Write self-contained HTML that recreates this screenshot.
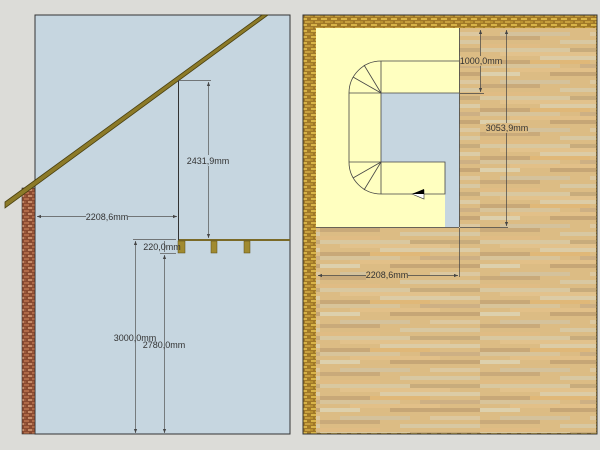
<!DOCTYPE html>
<html><head><meta charset="utf-8"><style>
html,body{margin:0;padding:0;background:#dcdcd8;}
svg{display:block;font-family:"Liberation Sans",sans-serif;}
</style></head><body>
<svg width="600" height="450" viewBox="0 0 600 450" xmlns="http://www.w3.org/2000/svg">
<defs>
<pattern id="brick" width="8" height="6" patternUnits="userSpaceOnUse">
<rect width="8" height="6" fill="#8a4a30"/>
<rect x="0" y="0" width="5" height="2" fill="#b06a48"/>
<rect x="4" y="3" width="4" height="2" fill="#c48a68"/>
<rect x="0" y="3" width="2" height="2" fill="#9c5a3c"/>
</pattern>
<pattern id="ybrick" width="10" height="6" patternUnits="userSpaceOnUse">
<rect width="10" height="6" fill="#a07828"/>
<rect x="1" y="0" width="6" height="2" fill="#d8b448"/>
<rect x="5" y="3" width="5" height="2" fill="#c8a040"/>
<rect x="0" y="3" width="3" height="2" fill="#b89030"/>
</pattern>
<pattern id="wood" width="160" height="48" patternUnits="userSpaceOnUse">
<rect width="160" height="48" fill="#dcbc84"/>
<rect x="0" y="0" width="90" height="4" fill="#d9c8a0"/>
<rect x="90" y="0" width="70" height="4" fill="#c8ac7c"/>
<rect x="20" y="4" width="110" height="4" fill="#e2c28c"/>
<rect x="60" y="8" width="100" height="4" fill="#dccca6"/>
<rect x="0" y="12" width="50" height="4" fill="#c8a878"/>
<rect x="50" y="12" width="60" height="4" fill="#e0b878"/>
<rect x="0" y="16" width="80" height="4" fill="#d8c49a"/>
<rect x="100" y="16" width="60" height="4" fill="#cdb084"/>
<rect x="30" y="20" width="90" height="4" fill="#e2c088"/>
<rect x="0" y="24" width="40" height="4" fill="#ddd0ac"/>
<rect x="70" y="24" width="90" height="4" fill="#c6a676"/>
<rect x="0" y="28" width="110" height="4" fill="#dcbc84"/>
<rect x="20" y="32" width="70" height="4" fill="#d4c29c"/>
<rect x="110" y="32" width="50" height="4" fill="#dcc8a0"/>
<rect x="0" y="36" width="60" height="4" fill="#c9aa7a"/>
<rect x="80" y="40" width="80" height="4" fill="#d8c8a2"/>
<rect x="0" y="44" width="60" height="4" fill="#e0bc84"/>
</pattern>
<marker id="ar" viewBox="0 0 10 10" refX="10" refY="5" markerWidth="6" markerHeight="6" orient="auto-start-reverse"><path d="M0,1 L10,5 L0,9z" fill="#444"/></marker>
</defs>

<!-- LEFT PANEL -->
<rect x="35" y="15" width="255" height="419" fill="#c6d6e0" stroke="#333" stroke-width="1"/>
<rect x="22" y="188" width="13" height="246" fill="url(#brick)" stroke="#333" stroke-width="0.6"/>
<polygon points="5,202 262,15 268,15 5,208" fill="#8c7a28" stroke="#4a4010" stroke-width="0.8"/>
<rect x="178" y="239" width="112" height="2" fill="#7a6a28"/>
<rect x="178" y="241" width="7" height="12" fill="#a08a30" stroke="#5a4a10" stroke-width="0.5"/>
<rect x="211" y="241" width="6" height="12" fill="#a08a30" stroke="#5a4a10" stroke-width="0.5"/>
<rect x="244" y="241" width="6" height="12" fill="#a08a30" stroke="#5a4a10" stroke-width="0.5"/>
<line x1="178.5" y1="80" x2="178.5" y2="240" stroke="#333" stroke-width="1"/>
<g stroke="#555" stroke-width="0.7" fill="none">
<line x1="178" y1="80.5" x2="211" y2="80.5"/>
<line x1="208.5" y1="82" x2="208.5" y2="238" marker-start="url(#ar)" marker-end="url(#ar)"/>
<line x1="37" y1="216.5" x2="177" y2="216.5" marker-start="url(#ar)" marker-end="url(#ar)"/>
<line x1="133" y1="239.5" x2="176" y2="239.5"/>
<line x1="160" y1="253.5" x2="176" y2="253.5"/>
<line x1="135.5" y1="241" x2="135.5" y2="433" marker-start="url(#ar)" marker-end="url(#ar)"/>
<line x1="164.5" y1="255" x2="164.5" y2="433" marker-start="url(#ar)" marker-end="url(#ar)"/>
<line x1="164.5" y1="241" x2="164.5" y2="252"/>
</g>
<g font-size="9" fill="#333" text-anchor="middle">
<rect x="187" y="155" width="43" height="11" fill="#c6d6e0"/>
<text x="208" y="164">2431,9mm</text>
<rect x="86" y="211" width="42" height="11" fill="#c6d6e0"/>
<text x="107" y="220">2208,6mm</text>
<text x="162" y="250">220,0mm</text>
<text x="135" y="341">3000,0mm</text>
<text x="164" y="348">2780,0mm</text>
</g>

<!-- RIGHT PANEL -->
<rect x="303" y="15" width="294" height="419" fill="url(#ybrick)" stroke="#333" stroke-width="1"/>
<rect x="316" y="28" width="280" height="405" fill="url(#wood)"/>
<rect x="316" y="28" width="143" height="199" fill="#ffffc0"/>
<path d="M381,93 H459 V227 H445 V162 H381 Z" fill="#c6d6e0"/>
<g stroke="#444" stroke-width="0.8" fill="none">
<line x1="316" y1="227.5" x2="459" y2="227.5"/>
<line x1="459.5" y1="28" x2="459.5" y2="227"/>
<path d="M459,61 H381 A32,32 0 0 0 349,93 V162 A32,32 0 0 0 381,194 H445 V162 H381"/>
<line x1="381" y1="61" x2="381" y2="93"/>
<line x1="349" y1="93" x2="381" y2="93"/>
<line x1="381" y1="93" x2="459" y2="93"/>
<line x1="381" y1="93" x2="381" y2="162"/>
<line x1="381" y1="93" x2="364" y2="65"/>
<line x1="381" y1="93" x2="353" y2="77"/>
<line x1="349" y1="162" x2="381" y2="162"/>
<line x1="381" y1="162" x2="381" y2="194"/>
<line x1="381" y1="162" x2="353" y2="178"/>
<line x1="381" y1="162" x2="364" y2="190"/>
</g>
<polygon points="412,194 424,190 424,199" fill="#fff" stroke="#333" stroke-width="0.6"/>
<polygon points="412,194 424,189 424,194" fill="#000"/>
<g stroke="#444" stroke-width="0.7" fill="none">
<line x1="460" y1="93.5" x2="484" y2="93.5"/>
<line x1="460" y1="227.5" x2="508" y2="227.5"/>
<line x1="480.5" y1="30" x2="480.5" y2="92" marker-start="url(#ar)" marker-end="url(#ar)"/>
<line x1="506.5" y1="30" x2="506.5" y2="226" marker-start="url(#ar)" marker-end="url(#ar)"/>
<line x1="459.5" y1="228" x2="459.5" y2="277"/>
<line x1="318" y1="275.5" x2="458" y2="275.5" marker-start="url(#ar)" marker-end="url(#ar)"/>
</g>
<g font-size="9" fill="#333" text-anchor="middle">
<rect x="461" y="56" width="40" height="10" fill="#dcbc84"/>
<text x="481" y="64">1000,0mm</text>
<rect x="486" y="123" width="42" height="10" fill="#dcbc84"/>
<text x="507" y="131">3053,9mm</text>
<rect x="366" y="270" width="42" height="10" fill="#dcbc84"/>
<text x="387" y="278">2208,6mm</text>
</g>
</svg>
</body></html>
